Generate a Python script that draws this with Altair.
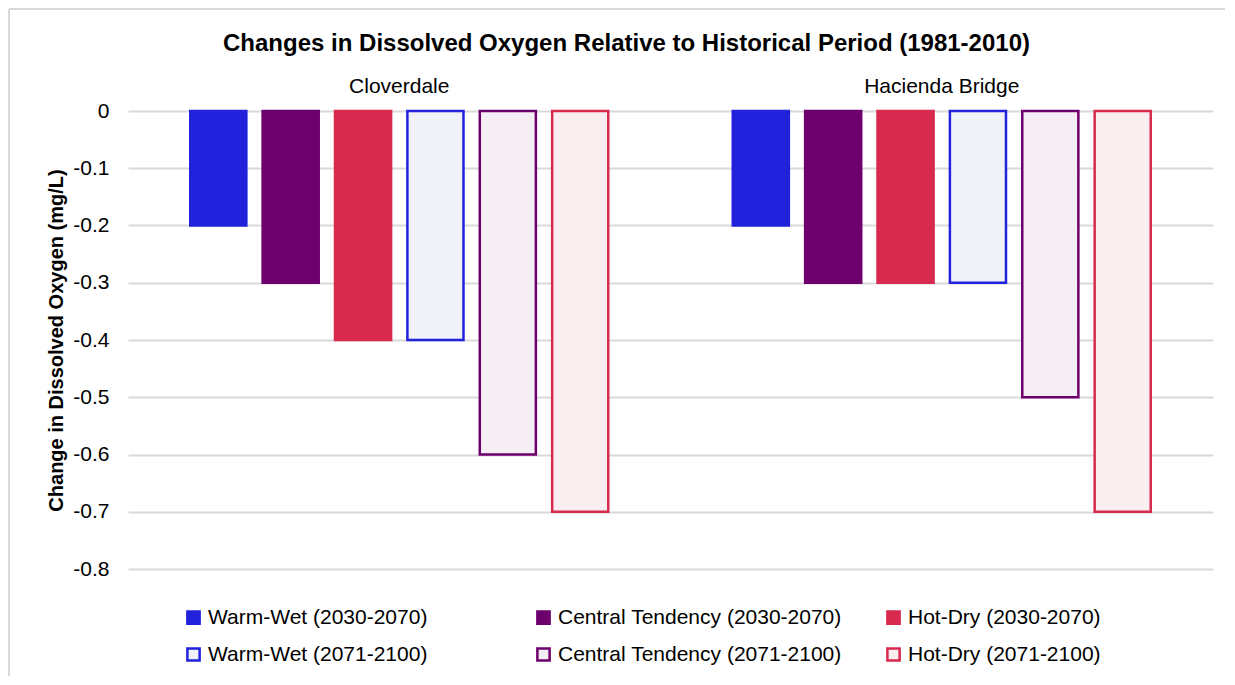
import altair as alt
import pandas as pd

stations = ["Cloverdale", "Hacienda Bridge"]
scenarios = [
    "Warm-Wet (2030-2070)",
    "Central Tendency (2030-2070)",
    "Hot-Dry (2030-2070)",
    "Warm-Wet (2071-2100)",
    "Central Tendency (2071-2100)",
    "Hot-Dry (2071-2100)",
]
cloverdale = [-0.2, -0.3, -0.4, -0.4, -0.6, -0.7]
hacienda = [-0.2, -0.3, -0.3, -0.3, -0.5, -0.7]
y_ticks = [0, -0.1, -0.2, -0.3, -0.4, -0.5, -0.6, -0.7, -0.8]

chart_title = "Changes in Dissolved Oxygen Relative to Historical Period (1981-2010)"

fill_colors = ["#2222DC", "#6E006E", "#D8294F", "#F1F1FA", "#F6EEF5", "#FAEEF1"]
stroke_colors = ["#2222DC", "#6E006E", "#D8294F", "#2222DC", "#6E006E", "#D8294F"]

rows = []
for st, vals in zip(stations, [cloverdale, hacienda]):
    for sc, v in zip(scenarios, vals):
        rows.append({"Station": st, "Scenario": sc, "Value": v})
df = pd.DataFrame(rows)

FONT = "Liberation Sans"
FS = 21

bars = (
    alt.Chart(df)
    .mark_bar(strokeWidth=2.5)
    .encode(
        x=alt.X(
            "Station:N",
            sort=stations,
            scale=alt.Scale(paddingInner=0, paddingOuter=0),
            axis=alt.Axis(
                orient="top",
                title=chart_title,
                titleFont=FONT,
                titleFontSize=24,
                titleFontWeight="bold",
                titleColor="#000000",
                titleX=498,
                titleY=-68,
                titleAlign="center",
                titleBaseline="middle",
                domain=False,
                ticks=False,
                labelAngle=0,
                labelFontSize=FS,
                labelFont=FONT,
                labelColor="#000000",
                labelPadding=15,
            ),
        ),
        xOffset=alt.XOffset(
            "Scenario:N",
            sort=scenarios,
            scale=alt.Scale(paddingInner=0.225, paddingOuter=0.86),
        ),
        y=alt.Y(
            "Value:Q",
            scale=alt.Scale(domain=[-0.8, 0], nice=False),
            axis=alt.Axis(
                title="Change in Dissolved Oxygen (mg/L)",
                titleFont=FONT,
                titleFontSize=20,
                titleFontWeight="bold",
                titleColor="#000000",
                titlePadding=6,
                values=y_ticks,
                labelExpr="replace(format(datum.value, '.1~f'), '\u2212', '-')",
                labelFont=FONT,
                labelFontSize=FS,
                labelColor="#000000",
                labelPadding=19,
                domain=False,
                ticks=False,
                gridColor="#D9D9D9",
                gridWidth=2,
            ),
        ),
        fill=alt.Fill(
            "Scenario:N",
            sort=scenarios,
            scale=alt.Scale(domain=scenarios, range=fill_colors),
            legend=alt.Legend(
                title=None,
                orient="none",
                legendX=55,
                legendY=496,
                direction="horizontal",
                columns=3,
                gridAlign="all",
                columnPadding=40,
                rowPadding=14,
                symbolType="square",
                symbolSize=150,
                symbolStrokeWidth=2.5,
                symbolOffset=0,
                labelOffset=4,
                labelFont=FONT,
                labelFontSize=FS,
                labelColor="#000000",
                labelLimit=400,
            ),
        ),
        stroke=alt.Stroke(
            "Scenario:N",
            sort=scenarios,
            scale=alt.Scale(domain=scenarios, range=stroke_colors),
            legend=None,
        ),
    )
)

# light chart-area frame (left and top edges visible in the reference)
frame_df = pd.DataFrame({"k": [0]})
frame_left = alt.Chart(frame_df).mark_rule(color="#D9D9D9", strokeWidth=2).encode(
    x=alt.value(-119), y=alt.value(-102), y2=alt.value(565)
)
frame_top = alt.Chart(frame_df).mark_rule(color="#D9D9D9", strokeWidth=2).encode(
    x=alt.value(-119), x2=alt.value(1097), y=alt.value(-102)
)

chart = (
    alt.layer(bars, frame_left, frame_top)
    .properties(
        width=1085,
        height=458,
        padding={"left": 0, "top": 0, "right": 0, "bottom": 0},
    )
    .configure_view(stroke=None)
)

chart.save("out.html", embed_options={"renderer": "svg", "actions": False})
